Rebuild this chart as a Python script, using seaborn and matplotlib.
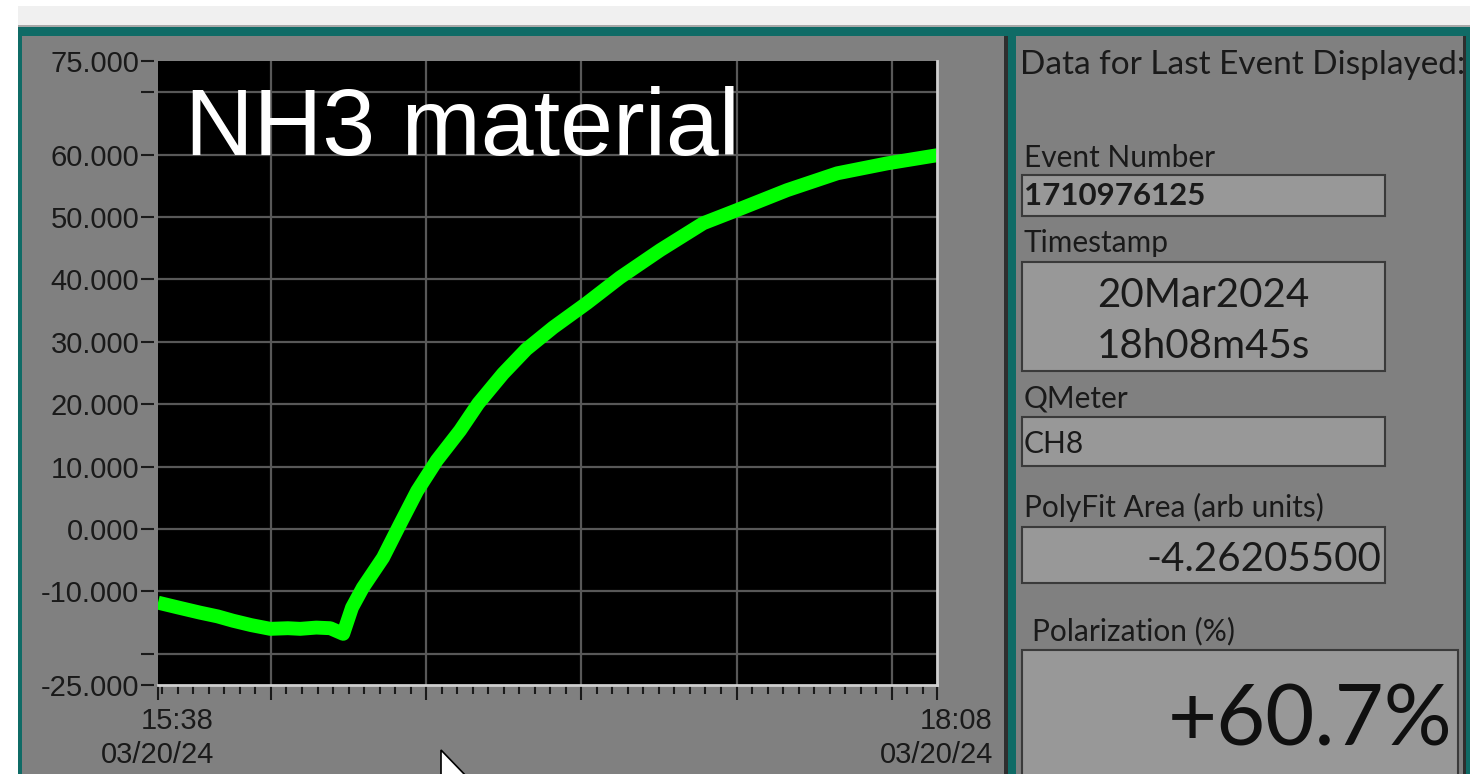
import pandas as pd
import matplotlib
matplotlib.use("Agg")
import matplotlib.pyplot as plt
import matplotlib.dates as mdates
from matplotlib.patches import Rectangle, Polygon
from matplotlib.transforms import ScaledTranslation
import seaborn as sns

# polarization trace, minutes after the first event (15:38:10 on 03/20/24)
minutes = [0, 4.0, 8.1, 11.5, 14.5, 18.0, 21.7, 25.1, 27.5, 30.6, 33.3, 35.8,
           37.5, 39.6, 43.5, 46.8, 50.1, 53.9, 58.4, 61.9, 66.7, 71.2, 76.4,
           82.9, 89.3, 97.1, 105.4, 111.9, 121.6, 131.3, 141.0, 150.6]
polarization = [-11.8, -12.6, -13.4, -14.0, -14.7, -15.4, -16.0, -15.9, -16.0,
                -15.8, -15.9, -16.8, -12.6, -9.4, -4.6, 0.8, 6.1, 11.0, 15.8,
                20.1, 24.9, 28.8, 32.3, 36.2, 40.3, 44.7, 49.0, 51.1, 54.3,
                57.0, 58.6, 59.9]

start_time = "2024-03-20 15:38:10"
end_time = "2024-03-20 18:08:45"
grid_times = ["16:00", "16:30", "17:00", "17:30", "18:00"]
x_labels = ["15:38\n03/20/24", "18:08\n03/20/24"]
y_ticks = [-25, -20, -10, 0, 10, 20, 30, 40, 50, 60, 70, 75]
y_labelled = [-25, -10, 0, 10, 20, 30, 40, 50, 60, 75]

# right hand panel
event_number = "1710976125"
timestamp = ["20Mar2024", "18h08m45s"]
qmeter = "CH8"
polyfit_area = "-4.26205500"
polarization_now = "+60.7%"

TEAL = "#0f6b66"
GRAY = "#808080"
BOX = "#989898"
INK = "#1a1a1a"

sns.set_style("dark", {"axes.facecolor": "black", "grid.color": "#585858"})
plt.rcParams["font.family"] = ["Liberation Sans", "DejaVu Sans"]
PANEL_FONT = ["Lato", "DejaVu Sans"]

W, H = 1483, 774
fig = plt.figure(figsize=(W / 100, H / 100), dpi=100, facecolor="white")

# background in pixel coordinates
bg = fig.add_axes([0, 0, 1, 1])
bg.set_xlim(0, W)
bg.set_ylim(H, 0)
bg.axis("off")


def box(x0, y0, x1, y1, fc, ec="none", lw=0):
    bg.add_patch(Rectangle((x0, y0), x1 - x0, y1 - y0, fc=fc, ec=ec, lw=lw))


box(18, 6, 1470, 25, "#f0f0f0")
box(18, 25, 1470, 27, "#a8a8a8")
box(18, 27, 1470, 36, TEAL)
box(18, 27, 22, H, TEAL)
box(22, 36, 1465, H, GRAY)
box(1004, 36, 1008, H, "#2e2e2e")
box(1008, 36, 1016, H, TEAL)
box(1463, 36, 1466, H, "#2e2e2e")
box(1466, 27, 1470, H, TEAL)

# ---- right panel ----
bg.text(1020, 74, "Data for Last Event Displayed:", fontsize=24, color=INK,
        family=PANEL_FONT, va="baseline")

bg.text(1024, 167, "Event Number", fontsize=21.5, color=INK, family=PANEL_FONT, va="baseline")
box(1022, 175, 1385, 216, BOX, "#3a3a3a", 1.5)
bg.text(1024, 205, event_number, fontsize=22.5, weight="bold", color=INK,
        family=PANEL_FONT, va="baseline")

bg.text(1024, 252, "Timestamp", fontsize=21.5, color=INK, family=PANEL_FONT, va="baseline")
box(1022, 262, 1385, 371, BOX, "#3a3a3a", 1.5)
bg.text(1203, 307, timestamp[0], fontsize=29, color=INK, family=PANEL_FONT,
        va="baseline", ha="center")
bg.text(1203, 358, timestamp[1], fontsize=29, color=INK, family=PANEL_FONT,
        va="baseline", ha="center")

bg.text(1024, 408, "QMeter", fontsize=21.5, color=INK, family=PANEL_FONT, va="baseline")
box(1022, 417, 1385, 466, BOX, "#3a3a3a", 1.5)
bg.text(1024, 453, qmeter, fontsize=21.5, color=INK, family=PANEL_FONT, va="baseline")

bg.text(1024, 517, "PolyFit Area (arb units)", fontsize=21.5, color=INK,
        family=PANEL_FONT, va="baseline")
box(1022, 527, 1385, 583, BOX, "#3a3a3a", 1.5)
bg.text(1381, 571, polyfit_area, fontsize=29, color=INK, family=PANEL_FONT,
        va="baseline", ha="right")

bg.text(1032, 640, "Polarization (%)", fontsize=21.5, color=INK, family=PANEL_FONT,
        va="baseline")
box(1022, 650, 1458, 790, BOX, "#3a3a3a", 1.5)
bg.text(1452, 745, polarization_now, fontsize=61, color="#101010", family=PANEL_FONT,
        va="baseline", ha="right")

# mouse pointer
bg.add_patch(Polygon([(441, 750), (441, 778), (468, 778)], closed=True,
                     fc="white", ec="black", lw=1.2))

# ---- chart ----
t0 = pd.Timestamp(start_time)
t1 = pd.Timestamp(end_time)
df = pd.DataFrame({
    "time": t0 + pd.to_timedelta(minutes, unit="min"),
    "polarization": polarization,
})

ax = fig.add_axes([158 / W, 1 - 685 / H, (937 - 158) / W, (685 - 61) / H])
sns.lineplot(data=df, x="time", y="polarization", ax=ax, color="#00ff00",
             linewidth=10, solid_capstyle="butt", solid_joinstyle="round")

ax.set_xlim(t0, t1)
ax.set_ylim(y_ticks[0], y_ticks[-1])
ax.set_xlabel("")
ax.set_ylabel("")

ax.set_yticks(y_ticks)
ax.set_yticklabels([f"{v:.3f}" if v in y_labelled else "" for v in y_ticks])
tick_times = [t0] + [pd.Timestamp(f"2024-03-20 {t}") for t in grid_times] + [t1]
ax.set_xticks(tick_times)
ax.set_xticklabels([x_labels[0]] + [""] * len(grid_times) + [x_labels[1]])
ax.xaxis.set_minor_locator(mdates.MinuteLocator(byminute=range(0, 60, 3)))

ax.tick_params(axis="y", length=9.5, width=1.5, color=INK, pad=1,
               labelsize=21, labelcolor=INK, left=True)
ax.tick_params(axis="x", which="major", length=11, width=1.5, color=INK, pad=5,
               labelsize=21, labelcolor=INK, bottom=True)
ax.tick_params(axis="x", which="minor", length=6.5, width=1.5, color=INK, bottom=True)

for side in ["top", "left"]:
    ax.spines[side].set_color("none")
ax.spines["left"].set_position(("outward", 3))
for side in ["bottom", "right"]:
    ax.spines[side].set_color("#cfcfcf")
    ax.spines[side].set_linewidth(2)

ax.grid(True, color="#585858", linewidth=1.6)
for ticks in [ax.xaxis.get_major_ticks(), ax.yaxis.get_major_ticks()]:
    ticks[0].gridline.set_visible(False)
    ticks[-1].gridline.set_visible(False)

shift = ScaledTranslation(56 / 100, 0, fig.dpi_scale_trans)
for label in ax.get_xticklabels():
    label.set_horizontalalignment("right")
    label.set_multialignment("right")
    label.set_linespacing(1.25)
    label.set_transform(label.get_transform() + shift)

ax.text(0.035, 0.849, "NH3 material", transform=ax.transAxes, color="white",
        fontsize=68.5, va="baseline", ha="left")

fig.savefig("out.png", dpi=100, facecolor="white")
